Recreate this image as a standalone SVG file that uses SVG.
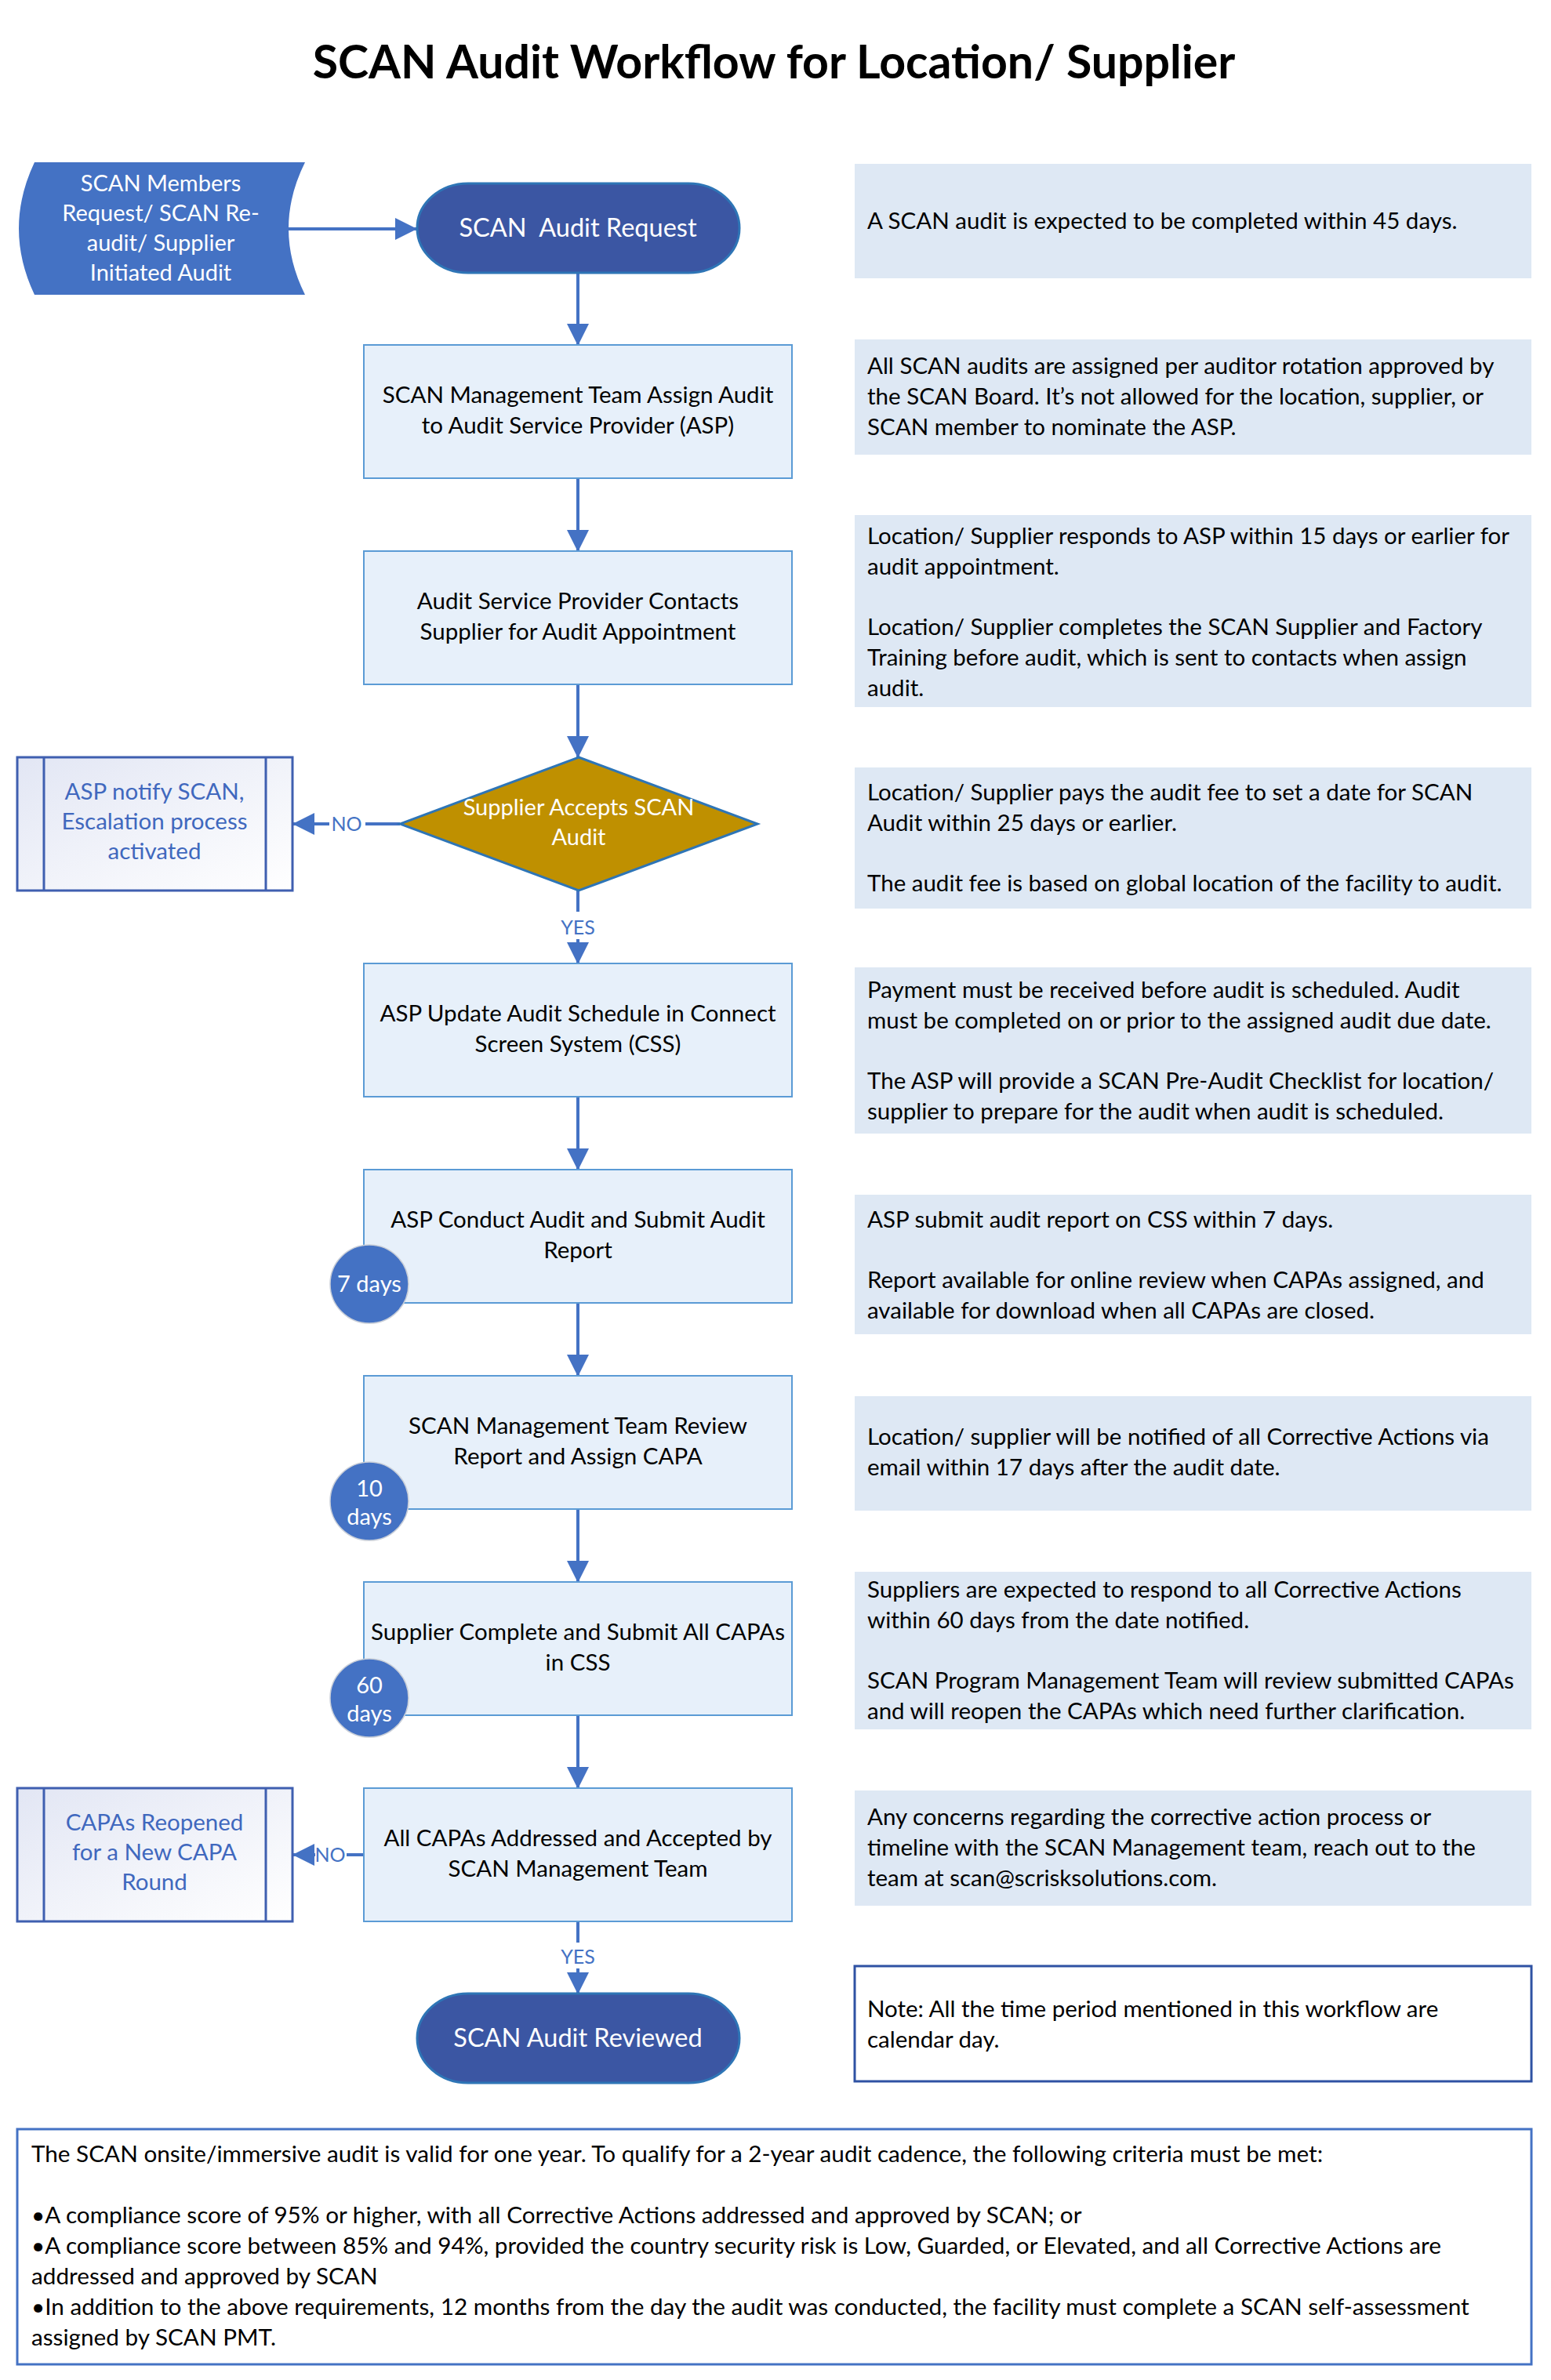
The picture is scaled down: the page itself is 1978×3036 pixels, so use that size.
<svg xmlns="http://www.w3.org/2000/svg" width="1978" height="3036" viewBox="0 0 1978 3036">
<style>
text{font-family:Lato,"Liberation Sans",sans-serif}
.title{font-size:59px;font-weight:bold;fill:#000;text-anchor:middle}
.pbox{fill:#E7F0FA;stroke:#5B9BD5;stroke-width:2}
.ptxt{font-size:29.5px;fill:#000;text-anchor:middle}
.note{fill:#DEE8F4}
.ntxt{font-size:29.5px;fill:#000}
.btxt{font-size:29.7px;fill:#000}
.term{fill:#3B56A3;stroke:#2E75B6;stroke-width:3}
.wtxt{fill:#fff;text-anchor:middle}
.side{fill:url(#sideGrad);stroke:#3F5FB0;stroke-width:3}
.sline{stroke:#3F5FB0;stroke-width:3}
.stxt{font-size:29.5px;fill:#4068BE;text-anchor:middle}
.conn{stroke:#4472C4;stroke-width:4;fill:none}
.lbl{font-size:25px;fill:#4472C4;text-anchor:middle}
.days{fill:#4472C4;stroke:#C8CED8;stroke-width:1.5}
</style>
<defs>
<marker id="arr" viewBox="0 0 28 28" markerWidth="28" markerHeight="28" markerUnits="userSpaceOnUse" refX="27" refY="14" orient="auto">
<path d="M0,0 L28,14 L0,28 z" fill="#4472C4"/>
</marker>
<linearGradient id="sideGrad" x1="0" y1="0" x2="1" y2="1">
<stop offset="0" stop-color="#E2E6F4"/>
<stop offset="1" stop-color="#FFFFFF"/>
</linearGradient>
</defs>
<rect x="0" y="0" width="1978" height="3036" fill="#fff"/>
<text class="title" x="987" y="100">SCAN Audit Workflow for Location/ Supplier</text>

<g id="connectors">
<path class="conn" d="M368,292 L531,292" marker-end="url(#arr)"/>
<path class="conn" d="M737,348 L737,440" marker-end="url(#arr)"/>
<path class="conn" d="M737,610 L737,703" marker-end="url(#arr)"/>
<path class="conn" d="M737,873 L737,966" marker-end="url(#arr)"/>
<path class="conn" d="M510,1051 L466,1051"/>
<path class="conn" d="M420,1051 L374,1051" marker-end="url(#arr)"/>
<text class="lbl" x="442" y="1060">NO</text>
<path class="conn" d="M737,1136 L737,1163"/>
<path class="conn" d="M737,1198 L737,1229" marker-end="url(#arr)"/>
<text class="lbl" x="737" y="1192">YES</text>
<path class="conn" d="M737,1399 L737,1492" marker-end="url(#arr)"/>
<path class="conn" d="M737,1662 L737,1755" marker-end="url(#arr)"/>
<path class="conn" d="M737,1925 L737,2018" marker-end="url(#arr)"/>
<path class="conn" d="M737,2188 L737,2281" marker-end="url(#arr)"/>
<path class="conn" d="M464,2366 L442,2366"/>
<path class="conn" d="M402,2366 L374,2366" marker-end="url(#arr)"/>
<text class="lbl" x="421" y="2375">NO</text>
<path class="conn" d="M737,2451 L737,2478"/>
<path class="conn" d="M737,2511 L737,2543" marker-end="url(#arr)"/>
<text class="lbl" x="737" y="2505">YES</text>
</g>

<g id="input">
<path d="M44,207 L389,207 Q347,291.5 389,376 L44,376 Q4,291.5 44,207 z" fill="#4472C4"/>
<text class="wtxt" font-size="29" x="205" y="244">SCAN Members</text>
<text class="wtxt" font-size="29" x="205" y="282">Request/ SCAN Re-</text>
<text class="wtxt" font-size="29" x="205" y="320">audit/ Supplier</text>
<text class="wtxt" font-size="29" x="205" y="358">Initiated Audit</text>
</g>

<g id="start">
<rect class="term" x="532" y="234" width="411" height="114" rx="65" ry="57"/>
<text class="wtxt" font-size="32.5" x="737" y="302" xml:space="preserve">SCAN  Audit Request</text>
</g>

<g id="assign">
<rect class="pbox" x="464" y="440" width="546" height="170"/>
<text class="ptxt" x="737" y="514">SCAN Management Team Assign Audit</text>
<text class="ptxt" x="737" y="553">to Audit Service Provider (ASP)</text>
</g>

<g id="contact">
<rect class="pbox" x="464" y="703" width="546" height="170"/>
<text class="ptxt" x="737" y="777">Audit Service Provider Contacts</text>
<text class="ptxt" x="737" y="816">Supplier for Audit Appointment</text>
</g>

<g id="decision1">
<polygon points="738,966 966,1051 738,1136 510,1051" fill="#BF9000" stroke="#2E75B6" stroke-width="3"/>
<text class="wtxt" font-size="29" x="738" y="1040">Supplier Accepts SCAN</text>
<text class="wtxt" font-size="29" x="738" y="1078">Audit</text>
</g>

<g id="escalation">
<rect class="side" x="22" y="966" width="351" height="170"/>
<line class="sline" x1="56" y1="966" x2="56" y2="1136"/>
<line class="sline" x1="339" y1="966" x2="339" y2="1136"/>
<text class="stxt" x="197" y="1020">ASP notify SCAN,</text>
<text class="stxt" x="197" y="1058">Escalation process</text>
<text class="stxt" x="197" y="1096">activated</text>
</g>

<g id="schedule">
<rect class="pbox" x="464" y="1229" width="546" height="170"/>
<text class="ptxt" x="737" y="1303">ASP Update Audit Schedule in Connect</text>
<text class="ptxt" x="737" y="1342">Screen System (CSS)</text>
</g>

<g id="conduct">
<rect class="pbox" x="464" y="1492" width="546" height="170"/>
<text class="ptxt" x="737" y="1566">ASP Conduct Audit and Submit Audit</text>
<text class="ptxt" x="737" y="1605">Report</text>
<circle class="days" cx="471" cy="1638" r="50"/>
<text class="wtxt" font-size="29" x="471" y="1648">7 days</text>
</g>

<g id="review">
<rect class="pbox" x="464" y="1755" width="546" height="170"/>
<text class="ptxt" x="737" y="1829">SCAN Management Team Review</text>
<text class="ptxt" x="737" y="1868">Report and Assign CAPA</text>
<circle class="days" cx="471" cy="1915" r="50"/>
<text class="wtxt" font-size="29" x="471" y="1909">10</text>
<text class="wtxt" font-size="29" x="471" y="1945">days</text>
</g>

<g id="submit">
<rect class="pbox" x="464" y="2018" width="546" height="170"/>
<text class="ptxt" x="737" y="2092">Supplier Complete and Submit All CAPAs</text>
<text class="ptxt" x="737" y="2131">in CSS</text>
<circle class="days" cx="471" cy="2166" r="50"/>
<text class="wtxt" font-size="29" x="471" y="2160">60</text>
<text class="wtxt" font-size="29" x="471" y="2196">days</text>
</g>

<g id="accepted">
<rect class="pbox" x="464" y="2281" width="546" height="170"/>
<text class="ptxt" x="737" y="2355">All CAPAs Addressed and Accepted by</text>
<text class="ptxt" x="737" y="2394">SCAN Management Team</text>
</g>

<g id="reopened">
<rect class="side" x="22" y="2281" width="351" height="170"/>
<line class="sline" x1="56" y1="2281" x2="56" y2="2451"/>
<line class="sline" x1="339" y1="2281" x2="339" y2="2451"/>
<text class="stxt" x="197" y="2335">CAPAs Reopened</text>
<text class="stxt" x="197" y="2373">for a New CAPA</text>
<text class="stxt" x="197" y="2411">Round</text>
</g>

<g id="end">
<rect class="term" x="532" y="2543" width="411" height="114" rx="65" ry="57"/>
<text class="wtxt" font-size="32.5" x="737" y="2611">SCAN Audit Reviewed</text>
</g>

<g id="note1">
<rect class="note" x="1090" y="209" width="863" height="146"/>
<text class="ntxt" x="1106" y="292">A SCAN audit is expected to be completed within 45 days.</text>
</g>
<g id="note2">
<rect class="note" x="1090" y="433" width="863" height="147"/>
<text class="ntxt" x="1106" y="477">All SCAN audits are assigned per auditor rotation approved by</text>
<text class="ntxt" x="1106" y="516">the SCAN Board. It’s not allowed for the location, supplier, or</text>
<text class="ntxt" x="1106" y="555">SCAN member to nominate the ASP.</text>
</g>
<g id="note3">
<rect class="note" x="1090" y="657" width="863" height="245"/>
<text class="ntxt" x="1106" y="694">Location/ Supplier responds to ASP within 15 days or earlier for</text>
<text class="ntxt" x="1106" y="733">audit appointment.</text>
<text class="ntxt" x="1106" y="810">Location/ Supplier completes the SCAN Supplier and Factory</text>
<text class="ntxt" x="1106" y="849">Training before audit, which is sent to contacts when assign</text>
<text class="ntxt" x="1106" y="888">audit.</text>
</g>
<g id="note4">
<rect class="note" x="1090" y="979" width="863" height="180"/>
<text class="ntxt" x="1106" y="1021">Location/ Supplier pays the audit fee to set a date for SCAN</text>
<text class="ntxt" x="1106" y="1060">Audit within 25 days or earlier.</text>
<text class="ntxt" x="1106" y="1137">The audit fee is based on global location of the facility to audit.</text>
</g>
<g id="note5">
<rect class="note" x="1090" y="1234" width="863" height="212"/>
<text class="ntxt" x="1106" y="1273">Payment must be received before audit is scheduled. Audit</text>
<text class="ntxt" x="1106" y="1312">must be completed on or prior to the assigned audit due date.</text>
<text class="ntxt" x="1106" y="1389">The ASP will provide a SCAN Pre-Audit Checklist for location/</text>
<text class="ntxt" x="1106" y="1428">supplier to prepare for the audit when audit is scheduled.</text>
</g>
<g id="note6">
<rect class="note" x="1090" y="1524" width="863" height="178"/>
<text class="ntxt" x="1106" y="1566">ASP submit audit report on CSS within 7 days.</text>
<text class="ntxt" x="1106" y="1643">Report available for online review when CAPAs assigned, and</text>
<text class="ntxt" x="1106" y="1682">available for download when all CAPAs are closed.</text>
</g>
<g id="note7">
<rect class="note" x="1090" y="1781" width="863" height="146"/>
<text class="ntxt" x="1106" y="1843">Location/ supplier will be notified of all Corrective Actions via</text>
<text class="ntxt" x="1106" y="1882">email within 17 days after the audit date.</text>
</g>
<g id="note8">
<rect class="note" x="1090" y="2005" width="863" height="201"/>
<text class="ntxt" x="1106" y="2038">Suppliers are expected to respond to all Corrective Actions</text>
<text class="ntxt" x="1106" y="2077">within 60 days from the date notified.</text>
<text class="ntxt" x="1106" y="2154">SCAN Program Management Team will review submitted CAPAs</text>
<text class="ntxt" x="1106" y="2193">and will reopen the CAPAs which need further clarification.</text>
</g>
<g id="note9">
<rect class="note" x="1090" y="2284" width="863" height="147"/>
<text class="ntxt" x="1106" y="2328">Any concerns regarding the corrective action process or</text>
<text class="ntxt" x="1106" y="2367">timeline with the SCAN Management team, reach out to the</text>
<text class="ntxt" x="1106" y="2406">team at scan@scrisksolutions.com.</text>
</g>
<g id="note10">
<rect x="1090" y="2508" width="863" height="147" fill="#fff" stroke="#2F52A3" stroke-width="3"/>
<text class="ntxt" x="1106" y="2573">Note: All the time period mentioned in this workflow are</text>
<text class="ntxt" x="1106" y="2612">calendar day.</text>
</g>

<g id="criteria">
<rect x="22" y="2716" width="1931" height="300" fill="#fff" stroke="#4472C4" stroke-width="3"/>
<text class="btxt" x="40" y="2758">The SCAN onsite/immersive audit is valid for one year. To qualify for a 2-year audit cadence, the following criteria must be met:</text>
<text class="btxt" x="40" y="2836">•A compliance score of 95% or higher, with all Corrective Actions addressed and approved by SCAN; or</text>
<text class="btxt" x="40" y="2875">•A compliance score between 85% and 94%, provided the country security risk is Low, Guarded, or Elevated, and all Corrective Actions are</text>
<text class="btxt" x="40" y="2914">addressed and approved by SCAN</text>
<text class="btxt" x="40" y="2953">•In addition to the above requirements, 12 months from the day the audit was conducted, the facility must complete a SCAN self-assessment</text>
<text class="btxt" x="40" y="2992">assigned by SCAN PMT.</text>
</g>
</svg>
